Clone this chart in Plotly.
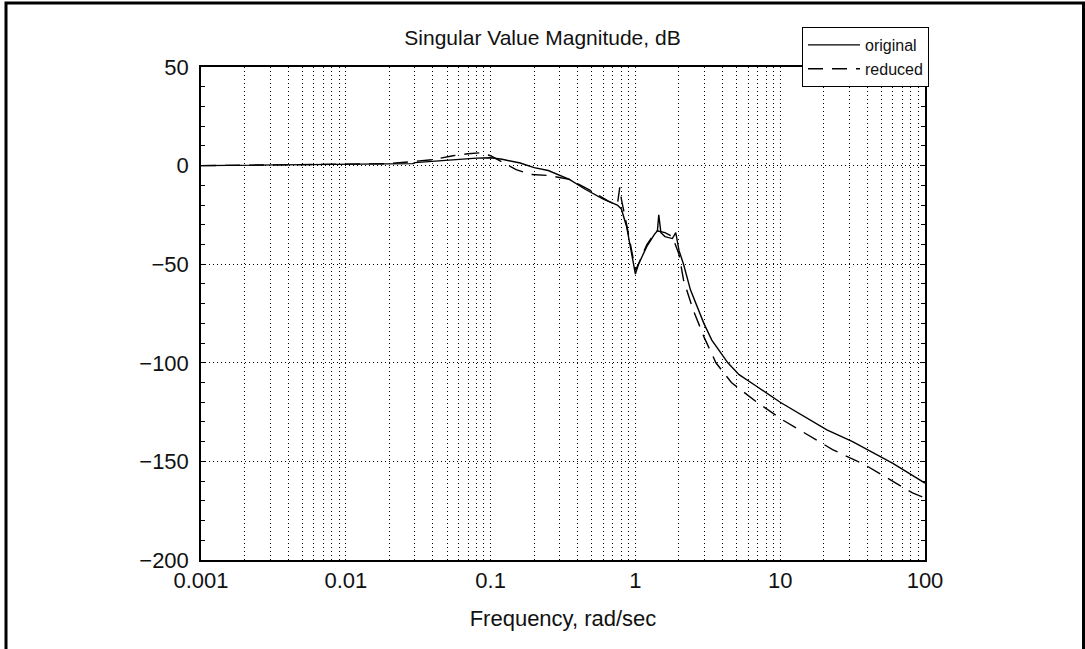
import plotly.graph_objects as go

# Frequency response, singular value magnitude (dB) vs. frequency (rad/sec)
freq_original = [0.001, 0.005, 0.01, 0.02, 0.029, 0.03, 0.045, 0.06, 0.08, 0.1,
                 0.12, 0.16, 0.2, 0.25, 0.35, 0.45, 0.6, 0.75, 0.8, 0.87,
                 0.95, 1.0, 1.05, 1.2, 1.35, 1.42, 1.45, 1.5, 1.6, 1.8,
                 1.9, 2.0, 2.15, 2.4, 2.97, 3.37, 4.35, 5.2, 6.9, 10,
                 21, 31.6, 60, 100]
db_original = [0, 0.3, 0.5, 0.8, 1, 1.5, 2.5, 3.2, 3.8, 4,
               3.2, 1.3, -1, -2.5, -7, -12, -17, -20, -22, -31,
               -45, -55, -50, -41, -35, -33, -25, -34, -36, -37,
               -34, -43, -50, -63, -80, -88.5, -100, -106, -112, -120,
               -134, -140, -151, -161]

freq_reduced = [0.001, 0.01, 0.02, 0.04, 0.055, 0.07, 0.085, 0.1, 0.12, 0.15,
                0.19, 0.25, 0.35, 0.5, 0.65, 0.75, 0.78, 0.8, 0.87, 0.95,
                1.0, 1.05, 1.2, 1.4, 1.6, 1.8, 2.0, 2.15, 2.5, 3.0,
                3.6, 4.6, 6.9, 10.4, 23, 39, 82, 100]
db_reduced = [0, 0.5, 1, 3, 5, 6, 6.5, 5, 2, -2,
              -4.5, -5, -7, -13, -18, -20, -11, -17, -30, -45,
              -53, -50, -40, -33, -34, -36, -45, -58, -73, -87.5,
              -100, -110, -120, -129, -144, -152, -166, -168.5]

# log-axis grid at every 1..9 multiple; labels only on decades
decades = [0.001, 0.01, 0.1, 1, 10]
decade_labels = ["0.001", "0.01", "0.1", "1", "10", "100"]
x_tickvals = [m * d for d in decades for m in range(1, 10)] + [100]
x_ticktext = []
for d, lab in zip(decades, decade_labels[:-1]):
    x_ticktext += [lab] + [""] * 8
x_ticktext.append(decade_labels[-1])

y_tickvals = [50, 0, -50, -100, -150, -200]

FONT = "Liberation Sans, Arial, sans-serif"

fig = go.Figure()
fig.add_trace(go.Scatter(x=freq_original, y=db_original, mode="lines",
                         name="original",
                         line=dict(color="black", width=1.4)))
fig.add_trace(go.Scatter(x=freq_reduced, y=db_reduced, mode="lines",
                         name="reduced",
                         line=dict(color="black", width=1.4, dash="15px,9px")))

fig.update_layout(
    width=1085, height=649,
    margin=dict(l=201, r=160, t=67, b=89),
    paper_bgcolor="white", plot_bgcolor="white",
    font=dict(family=FONT, color="#111", size=21),
    title=dict(text="Singular Value Magnitude, dB", x=0.5, xanchor="center",
               y=1 - 38 / 649, yanchor="middle",
               font=dict(family=FONT, size=21, color="#111")),
    showlegend=True,
    legend=dict(x=(802 - 201) / 724, y=(560 - 27) / 493,
                xanchor="left", yanchor="top", itemwidth=52,
                tracegroupgap=0,
                bgcolor="white", bordercolor="black", borderwidth=1,
                font=dict(family=FONT, size=16, color="#111")),
    xaxis=dict(type="log", range=[-3, 2],
               tickmode="array", tickvals=x_tickvals, ticktext=x_ticktext,
               ticks="", showline=True, linecolor="black", linewidth=1.5,
               mirror=True, showgrid=True, gridcolor="black", gridwidth=1,
               griddash="1px,3px", zeroline=False,
               tickfont=dict(size=22),
               title=dict(text="Frequency, rad/sec", font=dict(size=22),
                          standoff=18)),
    yaxis=dict(range=[-200, 50], tickmode="array", tickvals=y_tickvals,
               ticks="inside", ticklen=5, tickcolor="black",
               showline=True, linecolor="black", linewidth=1.5, mirror="ticks",
               showgrid=True, gridcolor="black", gridwidth=1,
               griddash="1px,3px", zeroline=False,
               tickfont=dict(size=22), ticklabelstandoff=6,
               minor=dict(dtick=10, ticks="inside", ticklen=4,
                          tickcolor="black", showgrid=False)),
    shapes=[dict(type="rect", xref="paper", yref="paper",
                 x0=(6 - 201) / 724, x1=(1083.5 - 201) / 724,
                 y0=(560 - 680) / 493, y1=(560 - 3) / 493,
                 line=dict(color="black", width=3), layer="below")],
)

fig.write_html("out.html")
